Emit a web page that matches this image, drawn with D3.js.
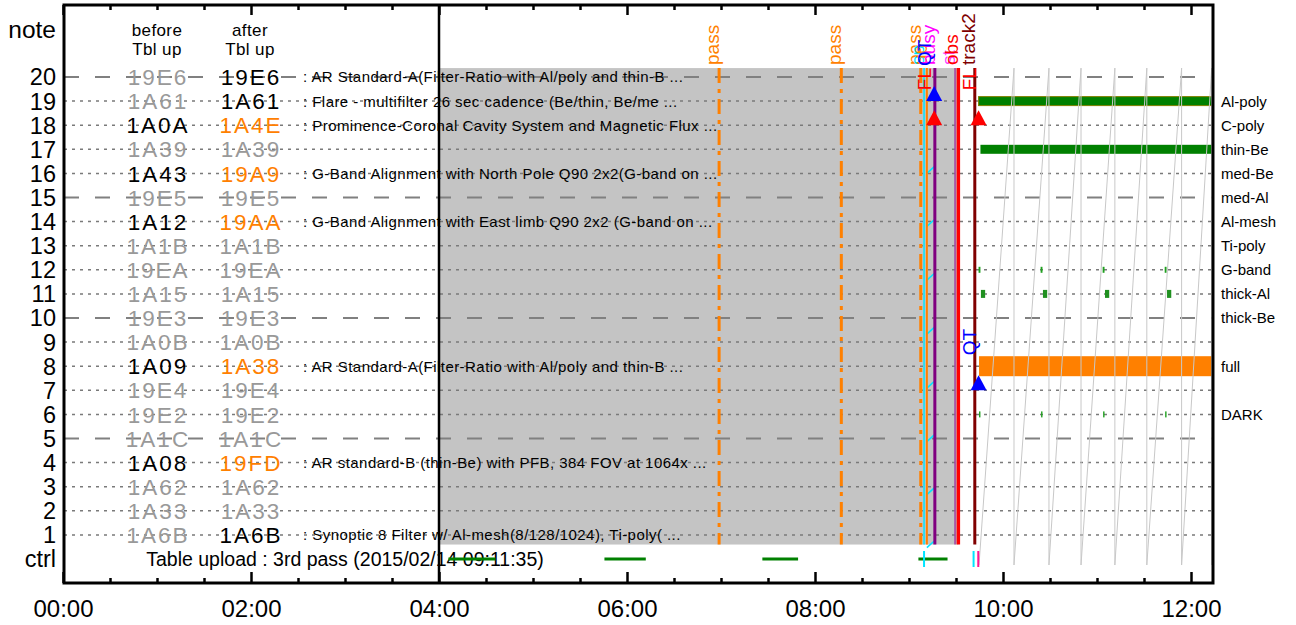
<!DOCTYPE html>
<html>
<head>
<meta charset="utf-8">
<script src="https://cdn.jsdelivr.net/npm/d3@7"></script>
<style>
  body { margin: 0; background: #fff; }
  svg text { font-family: "Liberation Sans", Arial, sans-serif; }
</style>
</head>
<body>
<svg id="chart" width="1296" height="625"></svg>
<script>
// Program table rows (top to bottom: 20 .. 1)
const rowNums = [20, 19, 18, 17, 16, 15, 14, 13, 12, 11, 10, 9, 8, 7, 6, 5, 4, 3, 2, 1];
const beforeCodes = ['19E6','1A61','1A0A','1A39','1A43','19E5','1A12','1A1B','19EA','1A15','19E3','1A0B','1A09','19E4','19E2','1A1C','1A08','1A62','1A33','1A6B'];
const afterCodes  = ['19E6','1A61','1A4E','1A39','19A9','19E5','19AA','1A1B','19EA','1A15','19E3','1A0B','1A38','19E4','19E2','1A1C','19FD','1A62','1A33','1A6B'];
// g = unused, k = in use, o = changed by upload
const beforeState = ['g','g','k','g','k','g','k','g','g','g','g','g','k','g','g','g','k','g','g','g'];
const afterState  = ['k','k','o','g','o','g','o','g','g','g','g','g','o','g','g','g','o','g','g','k'];
const descriptions = [
  ': AR Standard-A(Filter-Ratio with Al/poly and thin-B ...',
  ': Flare - multifilter 26 sec cadence (Be/thin, Be/me ...',
  ': Prominence-Coronal Cavity System and Magnetic Flux ...',
  '',
  ': G-Band Alignment with North Pole Q90 2x2(G-band on ...',
  '',
  ': G-Band Alignment with East limb Q90 2x2 (G-band on ...',
  '', '', '', '', '',
  ': AR Standard-A(Filter-Ratio with Al/poly and thin-B ...',
  '', '', '',
  ': AR standard-B (thin-Be) with PFB, 384 FOV at 1064x ...',
  '', '',
  ': Synoptic 8 Filter w/ Al-mesh(8/128/1024), Ti-poly( ...'
];
const ctrlText = 'Table upload : 3rd pass (2015/02/14 09:11:35)';

// filter names on the right side
const filterRows  = [19, 18, 17, 16, 15, 14, 13, 12, 11, 10, 8, 6];
const filterNames = ['Al-poly','C-poly','thin-Be','med-Be','med-Al','Al-mesh','Ti-poly','G-band','thick-Al','thick-Be','full','DARK'];

// time axis (hours)
const majorTicks = [0, 2, 4, 6, 8, 10, 12];
const minorTicks = [0.5, 1, 1.5, 2.5, 3, 3.5, 4.5, 5, 5.5, 6.5, 7, 7.5, 8.5, 9, 9.5, 10.5, 11, 11.5];
const tStart = 4.0;       // start of shaded (past) period
const tNow = 9.525;       // end of shaded period
const tEnd = 12.234;

// vertical events
const eventTimes  = [6.98, 8.28, 9.125, 9.16, 9.19, 9.275, 9.49, 9.525, 9.70];
const eventKinds  = ['pass','pass','pass','sp','up','busy','st','obs','track2'];
const eventLabels = ['pass','pass','pass','sp','up','busy','st','obs','track2'];

// markers (triangles)
const markerTimes = [9.268, 9.268, 9.74, 9.74];
const markerRows  = [19, 18, 18, 7];
const markerKinds = ['QT','FL','FL','QT'];

// exposures (start, end in hours)
const alPolyExp  = [[9.74, 12.234]];
const thinBeExp  = [[9.76, 12.234]];
const gbandExp   = [[9.74, 9.76], [10.40, 10.42], [11.06, 11.08], [11.72, 11.74]];
const thickAlExp = [[9.765, 9.81], [10.425, 10.47], [11.085, 11.13], [11.745, 11.79]];
const darkExp    = [[9.745, 9.76], [10.405, 10.42], [11.065, 11.08], [11.725, 11.74]];
const fullExp    = [[9.745, 12.234]];

// ctrl row
const ctrlSegs  = [[4.10, 4.60], [5.76, 6.20], [7.44, 7.82], [9.10, 9.41]];
const ctrlTicks = [9.16, 9.687, 9.737];
const ctrlTickKinds = ['cyan','cyan','pink'];

// small cyan slashes inside shaded area
const slashRows = [16.15, 13.95, 11.72, 9.48, 7.24, 5.02, 2.82, 0.62];

// orbit sawtooth (time, value in row units)
const sawT = [9.745, 10.117, 10.117, 10.489, 10.489, 10.83, 10.83, 11.19, 11.19, 11.53, 11.53, 11.90, 11.90, 12.22, 12.22];
const sawV = [-0.25, 20.37, -0.25, 20.37, -0.25, 20.37, -0.25, 20.37, -0.25, 20.37, -0.25, 20.37, -0.25, 20.37, -0.25];

const svg = d3.select('#chart');

const x = d3.scaleLinear().domain([0, 12]).range([63, 1191]);
const y = d3.scaleLinear().domain([0, 20]).range([559, 77]);

const frame = {left: 64, right: x(tEnd), top: 5, bottom: 583};

const colors = {
    g: '#999999', k: '#000000', o: '#ff8000'
};
const eventStyle = {
    'pass':   {line: '#ff8000', label: '#ff8000', width: 3,   dash: '15,6,4,6'},
    'sp':     {line: '#00e5ff', label: '#00e5ff', width: 1.5, dash: null},
    'up':     {line: '#ff8000', label: '#ff8000', width: 2,   dash: null},
    'busy':   {line: '#800080', label: '#ff00ff', width: 3,   dash: null},
    'st':     {line: '#a040a0', label: '#ff40ff', width: 1.5, dash: null},
    'obs':    {line: '#ff0000', label: '#ff0000', width: 3.5, dash: null},
    'track2': {line: '#800000', label: '#800000', width: 3,   dash: null}
};
const markerColor = {QT: '#0000ff', FL: '#ff0000'};

svg.append('defs').append('clipPath').attr('id', 'plotClip')
    .append('rect')
    .attr('x', frame.left).attr('y', frame.top)
    .attr('width', frame.right - frame.left)
    .attr('height', frame.bottom - frame.top);

// shaded period
svg.append('rect')
    .attr('x', x(tStart))
    .attr('y', y(20.37))
    .attr('width', x(tNow) - x(tStart))
    .attr('height', y(0.6) - y(20.37))
    .attr('fill', '#c4c4c4');

// row grid lines
svg.append('g').selectAll('line')
    .data(rowNums)
    .enter()
    .append('line')
    .attr('x1', frame.left)
    .attr('x2', frame.right)
    .attr('y1', d => y(d))
    .attr('y2', d => y(d))
    .attr('stroke', d => d % 5 === 0 ? '#808080' : '#7a7a7a')
    .attr('stroke-width', d => d % 5 === 0 ? 2 : 1.5)
    .attr('stroke-dasharray', d => d % 5 === 0 ? '15,16' : '3,5');

// row numbers and header
const labels = svg.append('g');
labels.selectAll('.rownum')
    .data(rowNums)
    .enter()
    .append('text')
    .attr('class', 'rownum')
    .attr('x', 56)
    .attr('y', d => y(d))
    .attr('dy', '0.36em')
    .attr('text-anchor', 'end')
    .style('font-size', '23.5px')
    .text(d => d);

labels.append('text').attr('x', 56).attr('y', y(0)).attr('dy', '0.36em')
    .attr('text-anchor', 'end').style('font-size', '23.5px').text('ctrl');
labels.append('text').attr('x', 56).attr('y', 29).attr('dy', '0.36em')
    .attr('text-anchor', 'end').style('font-size', '24.5px').text('note');

[['before', 157], ['after', 250]].forEach(function(h) {
    labels.append('text').attr('x', h[1]).attr('y', 29.5).attr('dy', '0.36em')
        .attr('text-anchor', 'middle').style('font-size', '17px')
        .style('letter-spacing', '0.4px').text(h[0]);
    labels.append('text').attr('x', h[1]).attr('y', 48.5).attr('dy', '0.36em')
        .attr('text-anchor', 'middle').style('font-size', '17px')
        .style('letter-spacing', '0.4px').text('Tbl up');
});

// program codes
function drawCodes(codes, states, cx) {
    labels.append('g').selectAll('text')
        .data(rowNums)
        .enter()
        .append('text')
        .attr('x', cx + 1)
        .attr('y', d => y(d))
        .attr('dy', '0.36em')
        .attr('text-anchor', 'middle')
        .style('font-size', '22.5px')
        .style('letter-spacing', '2px')
        .attr('fill', (d, i) => colors[states[i]])
        .text((d, i) => codes[i]);
}
drawCodes(beforeCodes, beforeState, 157);
drawCodes(afterCodes, afterState, 250);

labels.append('g').selectAll('text')
    .data(rowNums)
    .enter()
    .append('text')
    .attr('x', 303)
    .attr('y', d => y(d))
    .attr('dy', '0.36em')
    .style('font-size', '15px')
    .style('letter-spacing', '0.45px')
    .text((d, i) => descriptions[i]);

labels.append('text')
    .attr('x', 345).attr('y', y(0)).attr('dy', '0.36em')
    .attr('text-anchor', 'middle')
    .style('font-size', '19.5px')
    .text(ctrlText);

// filter names on the right
labels.append('g').selectAll('text')
    .data(filterRows)
    .enter()
    .append('text')
    .attr('x', 1221)
    .attr('y', d => y(d))
    .attr('dy', '0.36em')
    .style('font-size', '15px')
    .text((d, i) => filterNames[i]);

const plot = svg.append('g').attr('clip-path', 'url(#plotClip)');

// exposures
function drawExp(data, row, h, fill, stroke) {
    plot.append('g').selectAll('rect')
        .data(data)
        .enter()
        .append('rect')
        .attr('x', d => x(d[0]))
        .attr('width', d => x(d[1]) - x(d[0]))
        .attr('y', y(row) - h / 2)
        .attr('height', h)
        .attr('fill', fill)
        .attr('stroke', stroke || 'none')
        .attr('stroke-width', 1);
}
drawExp(alPolyExp, 19, 9, '#008000', '#808000');
drawExp(thinBeExp, 17, 9, '#008000');
drawExp(gbandExp, 12, 6, '#20a020');
drawExp(thickAlExp, 11, 8, '#209020');
drawExp(darkExp, 6, 6, '#20a020');
drawExp(fullExp, 8, 20, '#ff8000');

// orbit sawtooth
const sawPts = sawT.map((t, i) => [t, sawV[i]]);
plot.append('path')
    .datum(sawPts)
    .attr('d', d3.line().x(d => x(d[0])).y(d => y(d[1])))
    .attr('fill', 'none')
    .attr('stroke', '#c8c8c8')
    .attr('stroke-width', 1);

// cyan slashes
plot.append('g').selectAll('line')
    .data(slashRows)
    .enter()
    .append('line')
    .attr('x1', x(9.19)).attr('x2', x(9.275))
    .attr('y1', d => y(d - 0.15)).attr('y2', d => y(d + 0.15))
    .attr('stroke', '#00e5ff').attr('stroke-width', 1.5);

// event lines
const events = eventTimes.map((t, i) => ({t: t, kind: eventKinds[i], label: eventLabels[i]}));
svg.append('g').selectAll('line')
    .data(events)
    .enter()
    .append('line')
    .attr('x1', d => x(d.t)).attr('x2', d => x(d.t))
    .attr('y1', y(20.37)).attr('y2', y(0.6))
    .attr('stroke', d => eventStyle[d.kind].line)
    .attr('stroke-width', d => eventStyle[d.kind].width)
    .attr('stroke-dasharray', d => eventStyle[d.kind].dash);

svg.append('g').selectAll('text')
    .data(events)
    .enter()
    .append('text')
    .attr('transform', d => 'translate(' + x(d.t) + ',65) rotate(-90)')
    .attr('fill', d => eventStyle[d.kind].label)
    .style('font-size', '19px')
    .text(d => d.label);

// markers
const markers = markerTimes.map((t, i) => ({t: t, row: markerRows[i], kind: markerKinds[i]}));
const mk = svg.append('g');
mk.selectAll('path')
    .data(markers)
    .enter()
    .append('path')
    .attr('d', function(d) {
        let cx = x(d.t), by = y(d.row);
        return 'M' + (cx - 8) + ',' + by + 'L' + (cx + 8) + ',' + by + 'L' + cx + ',' + (by - 15) + 'Z';
    })
    .attr('fill', d => markerColor[d.kind]);
mk.selectAll('text')
    .data(markers)
    .enter()
    .append('text')
    .attr('transform', d => 'translate(' + (x(d.t) - 3) + ',' + (y(d.row) - 35) + ') rotate(-90)')
    .attr('fill', d => markerColor[d.kind])
    .style('font-size', '19px')
    .text(d => d.kind);

// ctrl row
svg.append('g').selectAll('line')
    .data(ctrlSegs)
    .enter()
    .append('line')
    .attr('x1', d => x(d[0])).attr('x2', d => x(d[1]))
    .attr('y1', y(0)).attr('y2', y(0))
    .attr('stroke', '#008000').attr('stroke-width', 3);
svg.append('g').selectAll('line')
    .data(ctrlTicks)
    .enter()
    .append('line')
    .attr('x1', d => x(d)).attr('x2', d => x(d))
    .attr('y1', y(0) - 8).attr('y2', y(0) + 8)
    .attr('stroke', (d, i) => ctrlTickKinds[i] === 'cyan' ? '#00e5ff' : '#ff1493')
    .attr('stroke-width', 2);

// 04:00 divider
svg.append('line')
    .attr('x1', x(tStart)).attr('x2', x(tStart))
    .attr('y1', frame.top).attr('y2', frame.bottom)
    .attr('stroke', '#000').attr('stroke-width', 2.5);

// axes
const fmt = h => (h < 10 ? '0' : '') + h + ':00';
const bottomMajor = svg.append('g')
    .attr('transform', 'translate(0,' + frame.bottom + ')')
    .call(d3.axisBottom(x).tickValues(majorTicks).tickFormat(fmt).tickSizeInner(-11).tickSizeOuter(0).tickPadding(17));
const bottomMinor = svg.append('g')
    .attr('transform', 'translate(0,' + frame.bottom + ')')
    .call(d3.axisBottom(x).tickValues(minorTicks).tickFormat('').tickSizeInner(-5).tickSizeOuter(0));
const topMajor = svg.append('g')
    .attr('transform', 'translate(0,' + frame.top + ')')
    .call(d3.axisTop(x).tickValues(majorTicks).tickFormat('').tickSizeInner(-10).tickSizeOuter(0));
const topMinor = svg.append('g')
    .attr('transform', 'translate(0,' + frame.top + ')')
    .call(d3.axisTop(x).tickValues(minorTicks).tickFormat('').tickSizeInner(-5).tickSizeOuter(0));

[bottomMajor, bottomMinor, topMajor, topMinor].forEach(function(a) {
    a.select('.domain').remove();
    a.selectAll('line').attr('stroke', '#000').attr('stroke-width', 2.5);
});
bottomMajor.selectAll('text')
    .style('font-family', '"Liberation Sans", Arial, sans-serif')
    .style('font-size', '24px')
    .attr('fill', '#000');

// frame
svg.append('rect')
    .attr('x', frame.left).attr('y', frame.top)
    .attr('width', frame.right - frame.left)
    .attr('height', frame.bottom - frame.top)
    .attr('fill', 'none')
    .attr('stroke', '#000')
    .attr('stroke-width', 3);
</script>
</body>
</html>
